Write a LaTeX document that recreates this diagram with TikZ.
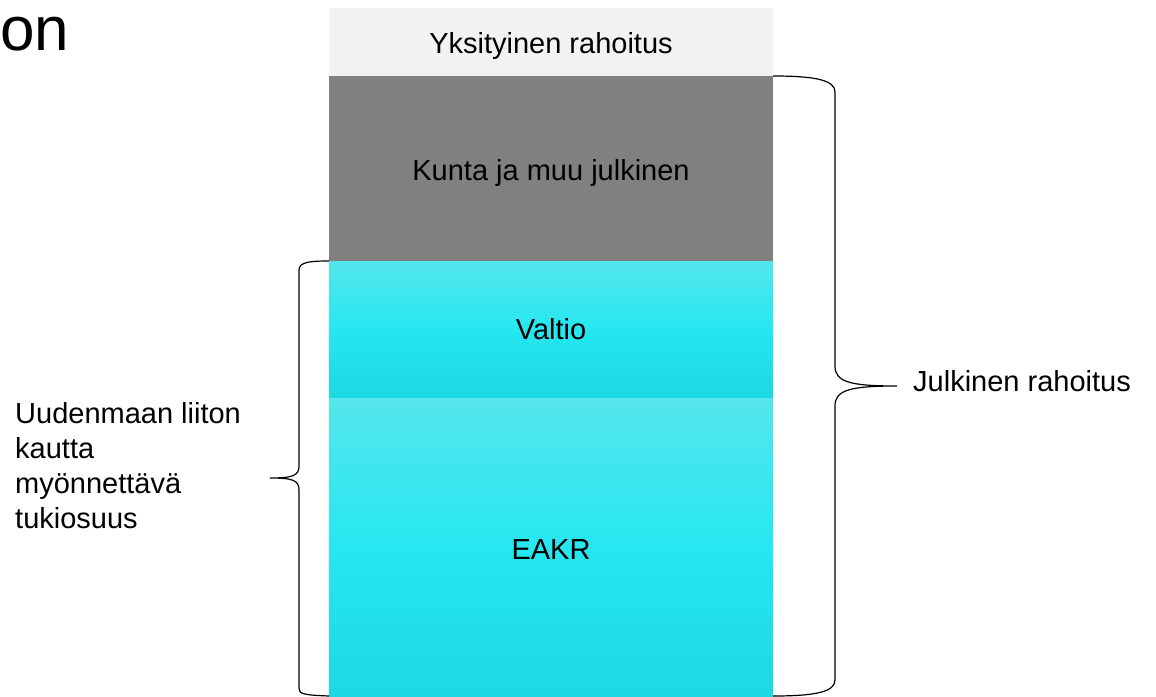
\documentclass[tikz,border=0pt]{standalone}
\usepackage{fontspec}
\setmainfont{Liberation Sans}
\definecolor{privbg}{HTML}{F2F2F2}
\definecolor{munbg}{HTML}{808080}
\definecolor{cyantop}{HTML}{55E6EC}
\definecolor{cyanmid}{HTML}{25E7F0}
\definecolor{cyanbot}{HTML}{1CD8E2}
\tikzset{
  lbl/.style={font=\fontsize{29}{35}\selectfont, text=black, inner sep=0pt},
  bracepath/.style={draw=black, line width=1.2pt},
  cyanfill/.style={top color=cyantop, bottom color=cyanbot, middle color=cyanmid}
}
\begin{document}
\begin{tikzpicture}[x=1pt,y=-1pt]
\useasboundingbox (0,0) rectangle (1156,696);
\clip (0,0) rectangle (1156,696);
% boxes
\fill[privbg] (329,8) rectangle (773,76);
\fill[munbg] (329,76) rectangle (773,261);
\shade[cyanfill] (329,261) rectangle (773,398);
\shade[cyanfill] (329,398) rectangle (773,700);
% labels in boxes
\node[lbl, anchor=base] (priv) at (551,53) {Yksityinen rahoitus};
\node[lbl, anchor=base] (mun) at (551,180) {Kunta ja muu julkinen};
\node[lbl, anchor=base] (state) at (551,339) {Valtio};
\node[lbl, anchor=base] (eakr) at (551,559) {EAKR};
% title fragment
\node[font=\fontsize{62}{70}\selectfont, inner sep=0pt, anchor=base west] (title) at (0,50) {on};
% right brace
\node[lbl, anchor=base west] (pub) at (913,391) {Julkinen rahoitus};
\draw[bracepath] (773,76) .. controls (815,76) and (835,80) .. (835,92)
  -- (835,366) .. controls (835,382) and (850,386) .. (897,386)
  .. controls (850,386) and (835,390) .. (835,406)
  -- (835,680) .. controls (835,692) and (815,696) .. (773,696);
% left brace
\node[lbl, anchor=north west, align=left] (ul) at (15,402) {Uudenmaan liiton\\kautta\\myönnettävä\\tukiosuus};
\draw[bracepath] (329,261) .. controls (310,261) and (299,262) .. (299,270)
  -- (299,466) .. controls (299,476) and (292,478) .. (270,478)
  .. controls (292,478) and (299,480) .. (299,490)
  -- (299,688) .. controls (299,694) and (303,695) .. (329,696);
\end{tikzpicture}
\end{document}
